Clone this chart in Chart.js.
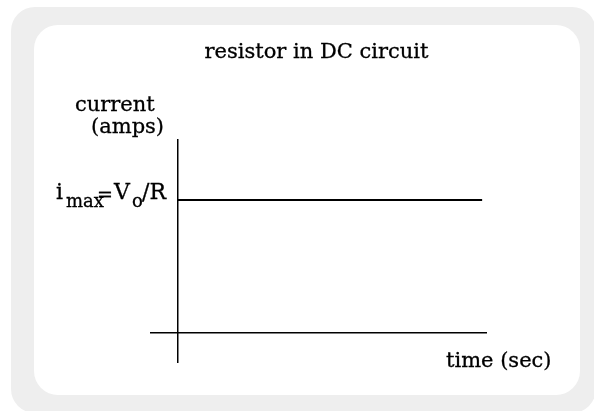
<!DOCTYPE html>
<html>
<head>
<meta charset="utf-8">
<title>resistor in DC circuit</title>
<script src="https://cdn.jsdelivr.net/npm/chart.js@4/dist/chart.umd.min.js"></script>
<style>
  html, body { margin: 0; padding: 0; background: #fff; }
  canvas { display: block; }
</style>
</head>
<body>
<canvas id="dcChart" width="594" height="411"></canvas>
<script>
// data: constant current through a resistor
const time = [0, 10];          // seconds
const current = [1, 1];        // i_max (normalised)
const xLimits = [-0.92, 10.16];
const yLimits = [-0.2256, 1.4586];

const serif = '"DejaVu Serif", "Liberation Serif", serif';

function roundRect(ctx, x, y, w, h, r, fill) {
  ctx.beginPath();
  ctx.moveTo(x + r, y);
  ctx.arcTo(x + w, y, x + w, y + h, r);
  ctx.arcTo(x + w, y + h, x, y + h, r);
  ctx.arcTo(x, y + h, x, y, r);
  ctx.arcTo(x, y, x + w, y, r);
  ctx.closePath();
  ctx.fillStyle = fill;
  ctx.fill();
}

// fill plus a hairline stroke so the serif looks as dark as the original
function text(ctx, str, x, y, size) {
  ctx.font = size + 'px ' + serif;
  ctx.fillText(str, x, y);
  ctx.strokeText(str, x, y);
}

// gray frame + white card behind the plot
const panelPlugin = {
  id: 'panel',
  beforeDraw(chart) {
    const ctx = chart.ctx;
    ctx.save();
    roundRect(ctx, 11, 7, 585, 406, 24, '#eeeeee');
    roundRect(ctx, 34, 25, 546, 370, 24, '#ffffff');
    ctx.restore();
  }
};

// title, axis captions and the i_max label
const labelPlugin = {
  id: 'labels',
  afterDraw(chart) {
    const ctx = chart.ctx;
    const xs = chart.scales.x, ys = chart.scales.y;
    const x0 = xs.getPixelForValue(0);
    const yMax = ys.getPixelForValue(current[0]);
    ctx.save();
    ctx.fillStyle = '#000';
    ctx.strokeStyle = '#000';
    ctx.lineWidth = 0.3;
    ctx.textBaseline = 'alphabetic';

    ctx.textAlign = 'center';
    text(ctx, 'resistor in DC circuit', 316.5, 58, 21);

    ctx.textAlign = 'left';
    text(ctx, 'current', 75, 111, 21);
    text(ctx, '(amps)', 91, 133, 21);
    text(ctx, 'time (sec)', 446, 367, 21);

    // i_max = V_o/R, placed left of the y axis at the level of the line
    const base = yMax - 1;
    const sub = base + 8;
    const lx = x0 - 122;
    text(ctx, 'i', lx, base, 22);
    text(ctx, 'max', lx + 10, sub, 18);
    text(ctx, '=', lx + 41, base + 2, 19);
    text(ctx, 'V', lx + 58, base, 22);
    text(ctx, 'o', lx + 76, sub, 18);
    text(ctx, '/R', lx + 86, base, 22);
    ctx.restore();
  }
};

// only the zero grid line of each scale is drawn: that gives the crossed axes
const zeroLine = (ctx) => (ctx.tick && ctx.tick.value === 0) ? '#000' : 'rgba(0,0,0,0)';

new Chart(document.getElementById('dcChart'), {
  type: 'line',
  data: {
    datasets: [{
      data: time.map((t, i) => ({ x: t, y: current[i] })),
      borderColor: '#000',
      borderWidth: 2,
      pointRadius: 0,
      fill: false,
      tension: 0
    }]
  },
  options: {
    responsive: false,
    animation: false,
    events: [],
    layout: { padding: { left: 150, right: 107, top: 139, bottom: 48 } },
    plugins: {
      legend: { display: false },
      tooltip: { enabled: false }
    },
    scales: {
      x: {
        type: 'linear',
        min: xLimits[0],
        max: xLimits[1],
        afterBuildTicks: (s) => { s.ticks = [{ value: 0 }]; },
        ticks: { display: false },
        border: { display: false },
        grid: { color: zeroLine, lineWidth: 1.5, drawTicks: false }
      },
      y: {
        type: 'linear',
        min: yLimits[0],
        max: yLimits[1],
        afterBuildTicks: (s) => { s.ticks = [{ value: 0 }]; },
        ticks: { display: false },
        border: { display: false },
        grid: { color: zeroLine, lineWidth: 1.5, drawTicks: false }
      }
    }
  },
  plugins: [panelPlugin, labelPlugin]
});
</script>
</body>
</html>
